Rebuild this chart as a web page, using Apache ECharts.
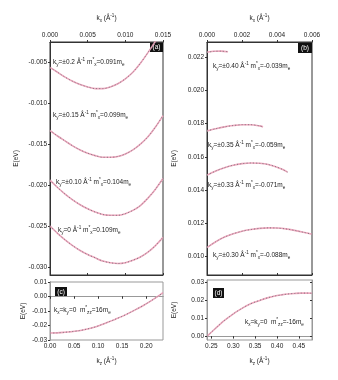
<!DOCTYPE html>
<html><head><meta charset="utf-8">
<script src="https://cdn.jsdelivr.net/npm/echarts@6/dist/echarts.min.js"></script>
<style>html,body{margin:0;padding:0;background:#fff}#c{width:338px;height:380px}</style>
</head><body><div id="c"></div>
<script>
// ---- Panel (a): E vs kx at several ky ----
const aK = [0, 0.001, 0.002, 0.003, 0.004, 0.005, 0.006, 0.007, 0.008, 0.009, 0.010, 0.011, 0.012, 0.013, 0.014, 0.015];
const a1E = [-0.0056, -0.0062, -0.0068, -0.0073, -0.0077, -0.0080, -0.0082, -0.0082, -0.0080, -0.0076, -0.0070, -0.0062, -0.0051, -0.0038, -0.0024, -0.0008];
const a2E = [-0.0133, -0.0140, -0.0146, -0.0152, -0.0157, -0.0161, -0.0164, -0.0166, -0.0166, -0.0165, -0.0162, -0.0157, -0.0150, -0.0141, -0.0129, -0.0115];
const a3E = [-0.0194, -0.0203, -0.0211, -0.0218, -0.0224, -0.0229, -0.0233, -0.0236, -0.0237, -0.0237, -0.0235, -0.0231, -0.0225, -0.0216, -0.0205, -0.0192];
const a4E = [-0.0250, -0.0259, -0.0267, -0.0274, -0.0280, -0.0285, -0.0289, -0.0293, -0.0295, -0.0296, -0.0295, -0.0292, -0.0288, -0.0282, -0.0274, -0.0264];
// ---- Panel (b) ----
const b1K = [0, 0.0004, 0.0008, 0.0012];
const b1E = [0.02228, 0.02234, 0.02235, 0.02231];
const b2K = [0, 0.0005, 0.001, 0.0015, 0.002, 0.0025, 0.003, 0.0032];
const b2E = [0.01756, 0.01769, 0.01780, 0.01788, 0.01793, 0.01793, 0.01786, 0.01780];
const b3K = [0, 0.0005, 0.001, 0.0015, 0.002, 0.0025, 0.003, 0.0035, 0.004, 0.0043, 0.0046];
const b3E = [0.0149, 0.01515, 0.01535, 0.0155, 0.01559, 0.01563, 0.01561, 0.01554, 0.01538, 0.01525, 0.01508];
const b4K = [0, 0.0005, 0.001, 0.0015, 0.002, 0.0025, 0.003, 0.0035, 0.004, 0.0045, 0.005, 0.0055, 0.006];
const b4E = [0.01055, 0.01090, 0.01118, 0.01138, 0.01153, 0.01163, 0.01170, 0.01173, 0.01172, 0.01167, 0.01158, 0.01147, 0.01135];
// ---- Panel (c): E vs kz ----
const cK = [0, 0.015, 0.03, 0.045, 0.06, 0.075, 0.09, 0.105, 0.12, 0.135, 0.15, 0.165, 0.18, 0.195, 0.21, 0.225, 0.235];
const cE = [-0.0252, -0.0251, -0.0247, -0.0242, -0.0236, -0.0226, -0.0214, -0.0197, -0.0178, -0.0158, -0.0137, -0.0113, -0.0087, -0.0060, -0.0030, 0.0002, 0.0026];
// ---- Panel (d): E vs kz ----
const dK = [0.241, 0.26, 0.275, 0.29, 0.305, 0.32, 0.335, 0.35, 0.365, 0.38, 0.395, 0.41, 0.425, 0.44, 0.455, 0.47, 0.48];
const dE = [0.0003, 0.0045, 0.0078, 0.0106, 0.0132, 0.0154, 0.0174, 0.0189, 0.0202, 0.0213, 0.0222, 0.0228, 0.0233, 0.0236, 0.0238, 0.0238, 0.0237];
// tick labels
const aXTicks = [0, 0.005, 0.010, 0.015];
const aYTicks = [-0.030, -0.025, -0.020, -0.015, -0.010, -0.005];
const bXTicks = [0, 0.002, 0.004, 0.006];
const bYTicks = [0.010, 0.012, 0.014, 0.016, 0.018, 0.020, 0.022];
const cXTicks = [0, 0.05, 0.10, 0.15, 0.20];
const cYTicks = [-0.03, -0.02, -0.01, 0.00, 0.01];
const dXTicks = [0.25, 0.30, 0.35, 0.40, 0.45];
const dYTicks = [0.00, 0.01, 0.02, 0.03];
// annotations
const aLabels = ['k_{y}=±0.2 Å^{-1} m^{*}_{x}=0.091m_{e}', 'k_{y}=±0.15 Å^{-1} m^{*}_{x}=0.099m_{e}',
  'k_{y}=±0.10 Å^{-1} m^{*}_{x}=0.104m_{e}', 'k_{y}=0 Å^{-1} m^{*}_{x}=0.109m_{e}'];
const bLabels = ['k_{y}=±0.40 Å^{-1} m^{*}_{x}=-0.039m_{e}', 'k_{y}=±0.35 Å^{-1} m^{*}_{x}=-0.059m_{e}',
  'k_{y}=±0.33 Å^{-1} m^{*}_{x}=-0.071m_{e}', 'k_{y}=±0.30 Å^{-1} m^{*}_{x}=-0.088m_{e}'];
const cLabel = 'k_{x}=k_{y}=0  m^{*}_{zz}=16m_{e}';
const dLabel = 'k_{x}=k_{y}=0  m^{*}_{zz}=-16m_{e}';

const FONT = 'Liberation Sans, Arial, sans-serif';
const RICH = {
  n: {fontSize: 6.5, lineHeight: 10, fontFamily: FONT, color: '#222'},
  s: {fontSize: 4.6, lineHeight: 6, verticalAlign: 'bottom', fontFamily: FONT, color: '#222'},
  p: {fontSize: 4.6, lineHeight: 6, verticalAlign: 'top', fontFamily: FONT, color: '#222'}
};
function rich(s) {
  return s.replace(/([_^])\{([^}]*)\}|([^_^]+)/g, (m, op, inner, plain) =>
    plain !== undefined ? '{n|' + plain + '}' : (op === '_' ? '{s|' : '{p|') + inner + '}');
}
const grids = [
  {left: 50, top: 42, width: 113, height: 233},
  {left: 207, top: 42, width: 105, height: 233},
  {left: 50, top: 282, width: 113, height: 58},
  {left: 207, top: 280, width: 105, height: 60}
].map((g, i) => Object.assign(g, {show: true, borderColor: i < 2 ? '#333' : '#999', borderWidth: 1, backgroundColor: 'transparent'}));

const ranges = {
  x: [[0, 0.015], [0, 0.006], [0, 0.235], [0.24, 0.48]],
  y: [[-0.031, -0.0025], [0.0089, 0.0229], [-0.03, 0.01], [-0.002, 0.031]]
};
const xt = [aXTicks, bXTicks, cXTicks, dXTicks];
const yt = [aYTicks, bYTicks, cYTicks, dYTicks];
const xdig = [3, 3, 2, 2], ydig = [3, 3, 2, 2];
const lblStyle = {fontSize: 6.5, color: '#222', fontFamily: FONT};
const kName = (v) => rich('k_{' + v + '} (Å^{-1})');

function axis(kind, i, main) {
  const r = ranges[kind][i];
  const ticks = kind === 'x' ? xt[i] : yt[i];
  const dig = kind === 'x' ? xdig[i] : ydig[i];
  const lineColor = i < 2 ? '#333' : '#999';
  const o = {
    type: 'value', gridIndex: i, min: r[0], max: r[1], scale: true,
    splitLine: {show: false},
    axisLine: {show: true, lineStyle: {color: lineColor, width: 1}},
    axisTick: {show: true, customValues: ticks, inside: !main, length: 2, lineStyle: {color: '#333'}},
    axisLabel: {show: main, customValues: ticks, margin: 3, formatter: v => v.toFixed(dig), ...lblStyle}
  };
  if (kind === 'x') {
    const topMain = i < 2;
    o.position = (main === topMain) ? 'top' : 'bottom';
    if (main) {
      o.name = kName(i < 2 ? 'x' : 'z');
      o.nameLocation = 'middle';
      o.nameGap = i < 2 ? 19 : 16;
      o.nameTextStyle = {rich: RICH};
    }
  } else {
    o.position = main ? 'left' : 'right';
    if (main) {
      o.name = 'E(eV)';
      o.nameLocation = 'middle';
      o.nameRotate = 90;
      o.nameGap = [30, 29, 23, 29][i];
      o.nameTextStyle = {fontSize: 6.5, fontFamily: FONT, color: '#222'};
    }
  }
  return o;
}
const xAxis = [0, 1, 2, 3].map(i => axis('x', i, true)).concat([0, 1, 2, 3].map(i => axis('x', i, false)));
const yAxis = [0, 1, 2, 3].map(i => axis('y', i, true)).concat([0, 1, 2, 3].map(i => axis('y', i, false)));

function curve(K, E, gi) {
  const d = K.map((k, j) => [k, E[j]]);
  const base = {type: 'line', xAxisIndex: gi, yAxisIndex: gi, data: d, smooth: 0.3, showSymbol: false, silent: true, animation: false, clip: true};
  return [
    Object.assign({}, base, {lineStyle: {color: '#eca6bc', width: 1.6}}),
    Object.assign({}, base, {lineStyle: {color: '#847680', width: 1, type: [1, 2.2]}})
  ];
}
const series = [].concat(
  curve(aK, a1E, 0), curve(aK, a2E, 0), curve(aK, a3E, 0), curve(aK, a4E, 0),
  curve(b1K, b1E, 1), curve(b2K, b2E, 1), curve(b3K, b3E, 1), curve(b4K, b4E, 1),
  curve(cK, cE, 2), curve(dK, dE, 3)
);

function txt(x, y, s) {
  return {type: 'text', x: x, y: y, silent: true, style: {text: rich(s), rich: RICH, fill: '#222', verticalAlign: 'middle', align: 'left'}};
}
function badge(x, y, w, h, s) {
  return [
    {type: 'rect', shape: {x: x, y: y, width: w, height: h}, style: {fill: '#111'}, silent: true},
    {type: 'text', x: x + w / 2, y: y + h / 2, silent: true, style: {text: s, fill: '#fff', fontSize: 6.5, fontFamily: FONT, align: 'center', verticalAlign: 'middle'}}
  ];
}
const graphic = [].concat(
  [txt(53, 62, aLabels[0]), txt(53, 115, aLabels[1]), txt(56, 182, aLabels[2]), txt(58, 230, aLabels[3]),
   txt(213, 66, bLabels[0]), txt(208, 145, bLabels[1]), txt(208, 185, bLabels[2]), txt(213, 255, bLabels[3]),
   txt(54, 310, cLabel), txt(245, 322, dLabel)],
  badge(150, 42, 13, 10, '(a)'), badge(298, 43, 14, 10, '(b)'),
  badge(55, 287, 12, 10, '(c)'), badge(213, 288, 11, 10, '(d)')
);

const chart = echarts.init(document.getElementById('c'), null, {renderer: 'canvas'});
chart.setOption({animation: false, backgroundColor: '#fff', grid: grids, xAxis: xAxis, yAxis: yAxis, series: series, graphic: graphic});
</script>
</body></html>
